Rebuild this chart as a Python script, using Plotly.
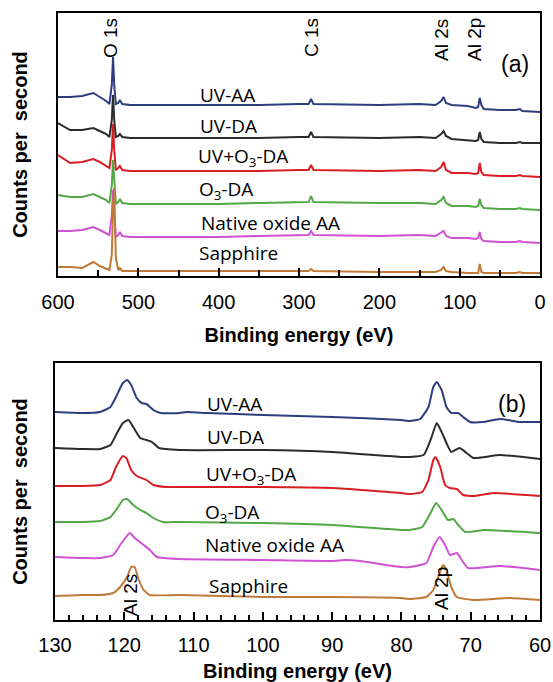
import plotly.graph_objects as go
from plotly.subplots import make_subplots

# ---------------- Panel (a): survey spectra ----------------
E_a = [600, 585, 570, 556, 548, 540, 536, 533, 531.5, 530, 528, 525, 523, 520, 510,
       450, 400, 350, 300, 288, 285, 282, 200, 150, 130, 123, 120, 117, 110, 90,
       80, 77, 75, 73, 70, 50, 30, 25, 22, 0]
a_uv_aa = [183, 183, 184, 187, 183, 179, 176, 195, 223, 195, 176, 177, 180, 176, 175,
           175, 175, 175, 176, 176, 181, 176, 175, 176, 175, 179, 183, 177, 175, 174,
           172, 173, 182, 175, 171, 170, 170, 171, 169, 168]
a_uv_da = [157, 150, 150, 152, 149, 146, 143, 160, 185, 160, 143, 144, 146, 143, 142,
           142, 142, 142, 143, 143, 148, 143, 142, 143, 142, 146, 149, 144, 141, 140,
           139, 140, 148, 141, 138, 137, 137, 138, 137, 137]
a_uvo3_da = [125, 117, 118, 121, 118, 114, 112, 130, 156, 130, 110, 112, 114, 110, 109,
             109, 109, 109, 110, 110, 115, 110, 109, 110, 109, 113, 118, 110, 107, 107,
             106, 107, 117, 108, 105, 104, 104, 105, 104, 103]
a_o3_da = [85, 83, 83, 86, 83, 80, 77, 95, 120, 95, 76, 78, 81, 77, 76,
           76, 76, 77, 78, 78, 84, 78, 77, 77, 76, 80, 83, 77, 74, 74,
           73, 74, 81, 75, 72, 71, 71, 72, 71, 70]
a_native = [49, 49, 50, 53, 50, 47, 45, 65, 90, 65, 43, 45, 48, 44, 43,
            43, 43, 44, 45, 45, 49, 45, 44, 45, 44, 47, 49, 44, 42, 42,
            41, 42, 48, 41, 39, 38, 38, 39, 38, 37]
a_sapphire = [13, 13, 12, 18, 14, 11, 10, 25, 75, 92, 22, 10, 12, 9, 9,
              9, 9, 9, 9, 9, 11, 9, 8, 8, 8, 10, 13, 9, 8, 7,
              7, 7, 16, 8, 7, 7, 7, 8, 7, 7]

# ---------------- Panel (b): Al 2s / Al 2p region ----------------
b_uv_aa_E = [130, 126, 123.5, 122, 121.2, 120.2, 119.6, 119, 118.2, 117.5, 116.8, 115.8,
             114.8, 112, 111, 108, 100, 90, 80, 78.8, 77.3, 76.1, 75.4, 74.9, 74.2, 73.5,
             72.8, 71.8, 71.1, 70.1, 68.2, 65.8, 62.9, 60]
b_uv_aa = [213, 212, 213, 218, 228, 242, 245, 240, 227, 222, 221, 215,
           212, 212, 213, 212, 210, 208, 205, 204, 206, 218, 238, 243, 235, 218,
           212, 212, 208, 203, 203, 206, 203, 203]
b_uv_da_E = [130, 126, 123.5, 122, 121.2, 120.2, 119.4, 118.7, 117.7, 116.8, 116, 115,
             112, 100, 90, 80, 78.8, 76.8, 75.8, 74.9, 74.2, 73.5, 72.8, 71.6, 70.6,
             69.6, 65.8, 60]
b_uv_da = [177, 176, 176, 180, 190, 202, 205, 198, 187, 185, 183, 177,
           175, 175, 173, 168, 168, 170, 185, 202, 193, 182, 173, 177, 172,
           167, 170, 166]
b_uvo3_da_E = [130, 126, 123.5, 122, 121.2, 120.2, 119.7, 119, 118.2, 116.8, 115.8, 113.9,
               112, 100, 90, 80, 78.8, 77, 76.1, 75.4, 75.1, 74.4, 73.7, 73, 72, 71.1,
               69.6, 66.7, 60]
b_uvo3_da = [139, 139, 140, 145, 158, 169, 167, 155, 149, 145, 140, 138,
             138, 138, 137, 132, 131, 133, 145, 165, 168, 158, 140, 137, 136, 130,
             129, 132, 129]
b_o3_da_E = [130, 126, 123.5, 122, 120.9, 120.2, 119.6, 118.7, 117.7, 116.8, 115.8, 114.4,
             112, 100, 90, 80, 78.8, 77, 75.8, 75, 74.2, 73.3, 72.5, 71.8, 70.8, 68, 60]
b_o3_da = [103, 103, 104, 108, 118, 125, 126, 120, 115, 112, 107, 103,
           103, 102, 100, 95, 95, 98, 112, 122, 115, 105, 106, 100, 93, 95, 92]
b_native_E = [130, 126, 123.5, 121.6, 120.4, 119.2, 118.5, 117.2, 116.3, 115.3, 112, 100,
              90, 88, 86, 80, 78.8, 76.4, 75.4, 74.5, 73.7, 73, 72, 71.3, 70.4, 65.8, 60]
b_native = [68, 67, 67, 70, 82, 92, 87, 80, 75, 68, 66, 65,
            64, 65, 64, 58, 58, 62, 78, 88, 80, 70, 72, 65, 57, 59, 55]
b_sapphire_E = [130, 126, 123.5, 121.6, 120.6, 119.6, 119, 118.5, 118, 117.2, 116.3, 112,
                100, 90, 80, 78.8, 76.4, 75.4, 74.7, 74, 73.5, 72.8, 72, 69.6, 64.4, 60]
b_sapphire = [29, 30, 30, 32, 38, 48, 58, 58, 47, 35, 30, 30,
              28, 28, 27, 26, 28, 35, 48, 60, 55, 38, 28, 25, 27, 25]

names = ["UV-AA", "UV-DA", "UV+O<sub>3</sub>-DA", "O<sub>3</sub>-DA", "Native oxide AA", "Sapphire"]
colors = ["#2D3E7E", "#2B2B2B", "#D81E22", "#52A847", "#D052D2", "#C07A38"]

a_series = [a_uv_aa, a_uv_da, a_uvo3_da, a_o3_da, a_native, a_sapphire]
b_series = [(b_uv_aa_E, b_uv_aa), (b_uv_da_E, b_uv_da), (b_uvo3_da_E, b_uvo3_da),
            (b_o3_da_E, b_o3_da), (b_native_E, b_native), (b_sapphire_E, b_sapphire)]

W, H = 553, 682

fig = make_subplots(rows=2, cols=1)

for name, col, ys in zip(names, colors, a_series):
    fig.add_trace(go.Scatter(x=E_a, y=ys, mode="lines", name=name,
                             line=dict(color=col, width=2), showlegend=False),
                  row=1, col=1)
for name, col, (xs, ys) in zip(names, colors, b_series):
    fig.add_trace(go.Scatter(x=xs, y=ys, mode="lines", name=name,
                             line=dict(color=col, width=2, shape="spline", smoothing=0.45),
                             showlegend=False),
                  row=2, col=1)

tickfont = dict(family="Liberation Sans, Arial", size=20, color="black")
titlefont = dict(family="Liberation Sans, Arial", size=20, color="black", weight="bold")

def px(x):
    return x / W

def py(y):
    return 1 - y / H

axis_common = dict(showline=True, linecolor="black", linewidth=1.8, mirror=True,
                   showgrid=False, zeroline=False, automargin=False)

fig.update_xaxes(domain=[px(58), px(540)], range=[600, 0], dtick=100, tick0=0,
                 ticks="inside", ticklen=8, tickwidth=1.8, tickcolor="black",
                 minor=dict(dtick=50, ticks="inside", ticklen=6, tickwidth=1.5, tickcolor="black"),
                 tickfont=tickfont, ticklabelstandoff=7,
                 title=dict(text="Binding energy (eV)", font=titlefont, standoff=16),
                 row=1, col=1, **axis_common)
fig.update_xaxes(domain=[px(55), px(540)], range=[130, 60], dtick=10, tick0=0,
                 ticks="inside", ticklen=8, tickwidth=1.8, tickcolor="black",
                 minor=dict(dtick=2, ticks="inside", ticklen=5, tickwidth=1.5, tickcolor="black"),
                 tickfont=tickfont, ticklabelstandoff=6,
                 title=dict(text="Binding energy (eV)", font=titlefont, standoff=14),
                 row=2, col=1, **axis_common)
fig.update_yaxes(domain=[py(276), py(13)], range=[4, 267], showticklabels=False, ticks="",
                 title=dict(text="Counts per  second", font=titlefont, standoff=23),
                 row=1, col=1, **axis_common)
fig.update_yaxes(domain=[py(620), py(363)], range=[5, 262], showticklabels=False, ticks="",
                 title=dict(text="Counts per  second", font=titlefont, standoff=20),
                 row=2, col=1, **axis_common)

ann = []
lab_font = dict(family="Open Sans", size=19, color="black")
a_labels = [(227, 95), (228, 126), (243, 157), (226, 190), (270, 223), (238, 253)]
b_labels = [(234, 404), (235, 437), (251, 475), (232, 513), (274, 545), (248, 586)]
for name, (x, y) in zip(names, a_labels):
    ann.append(dict(x=px(x), y=py(y), xref="paper", yref="paper", text=name,
                    showarrow=False, font=lab_font, xanchor="center", yanchor="middle"))
for name, (x, y) in zip(names, b_labels):
    ann.append(dict(x=px(x), y=py(y), xref="paper", yref="paper", text=name,
                    showarrow=False, font=lab_font, xanchor="center", yanchor="middle"))

peak_font = dict(family="Liberation Sans, Arial", size=19, color="black")
peaks = [("O 1s", 111, 38), ("C 1s", 312, 38), ("Al 2s", 442, 40), ("Al 2p", 475, 40),
         ("Al 2s", 130, 595), ("Al 2p", 441, 589)]
for t, x, y in peaks:
    ann.append(dict(x=px(x), y=py(y), xref="paper", yref="paper", text=t, textangle=-90,
                    showarrow=False, font=peak_font, xanchor="center", yanchor="middle"))

panel_font = dict(family="Liberation Sans, Arial", size=23, color="black")
ann.append(dict(x=px(515), y=py(64), xref="paper", yref="paper", text="(a)",
                showarrow=False, font=panel_font, xanchor="center", yanchor="middle"))
ann.append(dict(x=px(512), y=py(404), xref="paper", yref="paper", text="(b)",
                showarrow=False, font=panel_font, xanchor="center", yanchor="middle"))

fig.update_layout(width=W, height=H, margin=dict(l=0, r=0, t=0, b=0),
                  paper_bgcolor="white", plot_bgcolor="white",
                  annotations=ann, showlegend=False)

fig.write_html("out.html")
